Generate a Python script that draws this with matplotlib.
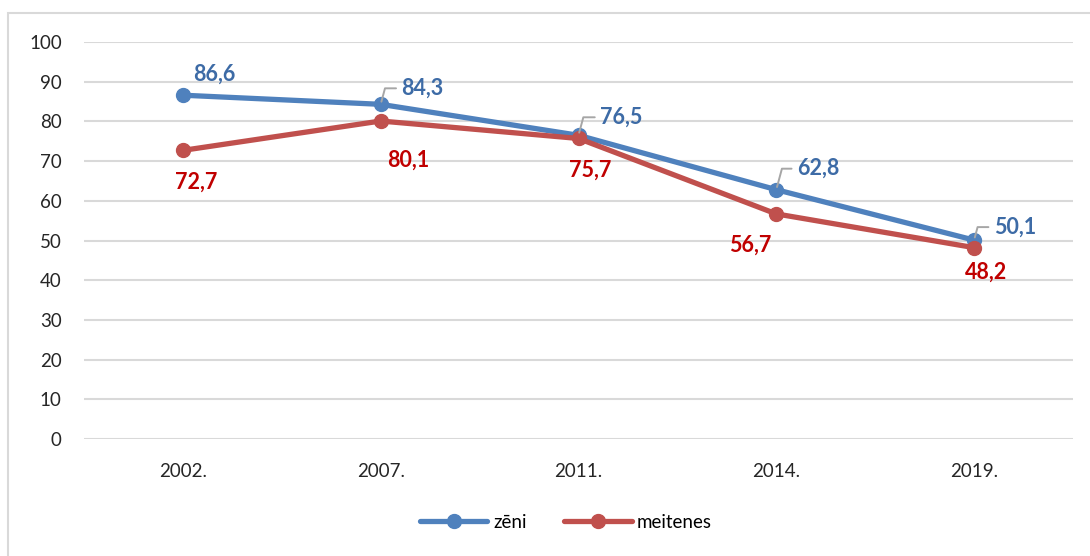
import matplotlib
matplotlib.use("Agg")
import matplotlib.pyplot as plt
from matplotlib.patches import Rectangle

years = ["2002.", "2007.", "2011.", "2014.", "2019."]
zeni = [86.6, 84.3, 76.5, 62.8, 50.1]
meitenes = [72.7, 80.1, 75.7, 56.7, 48.2]

# label offsets in pixels (dx, dy) from the point
zeni_off = [(31, 21), (42, 16), (43, 18), (42, 21), (41, 13)]
meit_off = [(13, -32), (28, -39), (12, -32), (-26, -31), (12, -25)]
zeni_leader = [False, True, True, True, True]

plt.rcParams['font.family'] = ['Lato', 'DejaVu Sans']

blue = "#4F81BD"
red = "#C0504D"
grid = "#D9D9D9"

fig = plt.figure(figsize=(10.9, 5.56), dpi=100)
ax = fig.add_axes([84/1090, 1-439/556, (1073-84)/1090, (439-42)/556])

# chart border
fig.patches.append(Rectangle((8/1090, -0.05), 1.1, 1-13/556+0.05, transform=fig.transFigure,
                             fill=False, edgecolor=grid, linewidth=1.5))

x = range(len(years))
ax.plot(x, zeni, color=blue, lw=3.8, marker='o', ms=10, label="zēni", zorder=3,
        solid_capstyle='round')
ax.plot(x, meitenes, color=red, lw=3.8, marker='o', ms=10, label="meitenes", zorder=3,
        solid_capstyle='round')

for i, v in enumerate(zeni):
    dx, dy = zeni_off[i]
    kw = {}
    if zeni_leader[i]:
        kw = dict(arrowprops=dict(arrowstyle='-', color='#A6A6A6', lw=1.4,
                                  connectionstyle='angle,angleA=0,angleB=75,rad=0',
                                  relpos=(0, 0.5), shrinkA=2, shrinkB=2))
    ax.annotate(f"{v:.1f}".replace('.', ','), (i, v), xytext=(dx, dy),
                textcoords='offset pixels', ha='center', va='center',
                fontsize=15.5, fontweight='bold', color="#3D6BA6", zorder=5, **kw)
for i, v in enumerate(meitenes):
    dx, dy = meit_off[i]
    ax.annotate(f"{v:.1f}".replace('.', ','), (i, v), xytext=(dx, dy),
                textcoords='offset pixels', ha='center', va='center',
                fontsize=15.5, fontweight='bold', color="#C00000", zorder=5)

ax.set_xlim(-0.5, len(years) - 0.5)
ax.set_ylim(0, 100)
ax.set_yticks(range(0, 101, 10))
ax.set_xticks(list(x))
ax.set_xticklabels(years)
ax.yaxis.grid(True, color=grid, lw=1.5)
ax.set_axisbelow(True)
for s in ax.spines.values():
    s.set_visible(False)
ax.tick_params(axis='both', length=0, labelsize=13.5, colors='#262626')
ax.tick_params(axis='y', pad=16)
ax.tick_params(axis='x', pad=17)

ax.legend(loc='center', bbox_to_anchor=(566/1090, 1-522/556), bbox_transform=fig.transFigure,
          ncol=2, frameon=False, fontsize=13.5, handlelength=3.6, columnspacing=2.0,
          handletextpad=0.3)

fig.savefig("out.png", dpi=100)
